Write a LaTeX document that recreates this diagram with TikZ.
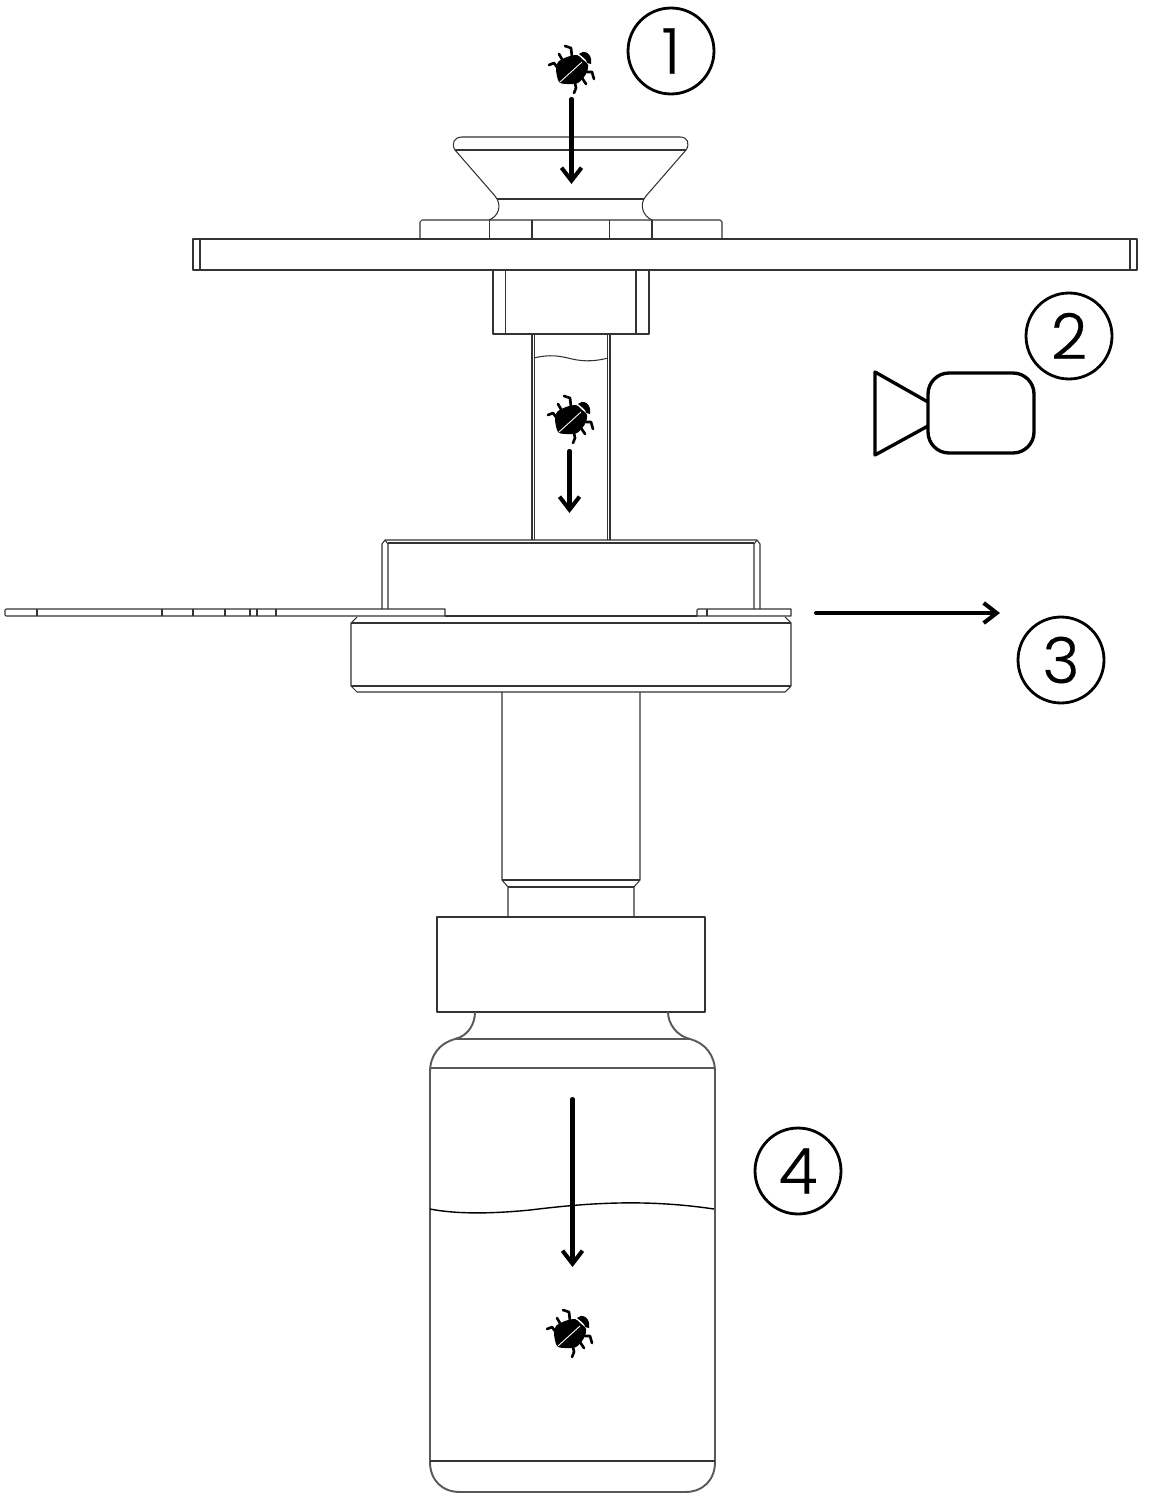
\documentclass[tikz,border=0pt]{standalone}
\usepackage{fontspec}
\setmainfont{Poppins Light}[FakeBold=0.5]
\usetikzlibrary{arrows.meta}

\tikzset{
    bug/.pic = {
        \fill[black] plot[smooth cycle] coordinates {(-16,0) (-14,-8) (-5,-13) (5,-15) (10,-11) (16,-5) (14,4) (6,13) (-5,14) (-13,12)};
        \fill[black] (7,-16) .. controls (11,-21) and (21,-17) .. (19,-6) -- (15,-7) .. controls (15,-10) and (12,-12) .. (7,-16) -- cycle;
        \draw[white, line width=0.5pt] (-12,12) -- (10,-8);
        \draw[black, line width=1.5pt, line cap=round, line join=round]
            (0,-13) -- (-1,-22) -- (-7,-24)
            (-9,-9) -- (-13,-16)
            (-15,-3) -- (-18,-7) -- (-23,-5)
            (15,2) -- (20,2) -- (22,9)
            (10,8) -- (14,14)
            (3,13) -- (4,18) -- (2,23);
    }
}

\begin{document}
\begin{tikzpicture}[
              x = 0.02cm, y = -0.02cm, % reference pixels
              > = {Straight Barb[length=2.6mm, width=4mm, line width=2.3pt]},
            semithick % line style
        ]

        \useasboundingbox (0,0) rectangle (1161,1503);

        \tikzstyle{part}=[draw = black!80, line width = 0.6pt, line join = round]
        \tikzstyle{glass}=[draw = black!65, line width = 1.1pt]
        \tikzstyle{flow}=[line width = 2.3pt, line cap = round]
        \tikzstyle{step label}=[
            draw, circle,
            line width = 1.6pt,
            minimum size = 1.72cm,
            inner sep = 0pt,
            font = \fontsize{36}{36}\selectfont
        ]
        \tikzstyle{cam}=[draw, line width = 1.9pt, line join = round]

        % funnel
        \draw[part] (462,137) -- (680,137) .. controls (688,137) and (690,144) .. (686,150)
            -- (646,196) -- (644,199) .. controls (640,206) and (643,216) .. (652,220);
        \draw[part] (462,137) .. controls (454,137) and (451,144) .. (455,150)
            -- (495,196) -- (497,199) .. controls (501,206) and (499,216) .. (489,220);
        \draw[part] (455,150) -- (686,150);
        \draw[part] (497,199) -- (644,199);

        % collar and top plate
        \draw[part] (420,239) -- (420,222) -- (422,220) -- (720,220) -- (722,222) -- (722,239);
        \foreach \xcol in {489.5, 532, 609.5, 652}
            \draw[part] (\xcol,220) -- (\xcol,239);
        \draw[part] (193,239) rectangle (1137,270);
        \draw[part] (200,239) -- (200,270);
        \draw[part] (1130,239) -- (1130,270);

        % block and tube
        \draw[part] (493,270) -- (493,334) -- (649,334) -- (649,270);
        \draw[part] (505.5,270) -- (505.5,334);
        \draw[part] (636,270) -- (636,334);
        \foreach \xtube in {532, 534.5, 607.5, 610}
            \draw[part] (\xtube,334) -- (\xtube,540);
        \draw[part] (534,358) .. controls (550,354) and (560,356) .. (572,359)
            .. controls (585,362) and (597,361) .. (608,358);

        % housing
        \draw[part] (382,609) -- (382,544) -- (385,540) -- (757,540) -- (760,544) -- (760,609);
        \draw[part] (388,609) -- (388,544) -- (385,540);
        \draw[part] (754,609) -- (754,544) -- (757,540);
        \draw[part] (388,543) -- (754,543);

        % slider
        \draw[part] (6,609) -- (445,609) -- (445,616) -- (6,616) -- (5,615) -- (5,610) -- cycle;
        \foreach \xslot in {37, 162, 193, 225, 250, 257, 276}
            \draw[part] (\xslot,609) -- (\xslot,616);
        \draw[part] (697,616) -- (697,610) -- (698,609) -- (791,609) -- (791,616) -- (697,616);
        \draw[part] (707,609) -- (707,616);

        % flange
        \draw[part] (445,616) -- (697,616);
        \draw[part] (357,617) -- (351,623) -- (351,686) -- (357,692) -- (785,692) -- (791,686) -- (791,623) -- (785,617);
        \draw[part] (351,623) -- (791,623);
        \draw[part] (351,686) -- (791,686);

        % shaft
        \draw[part] (502,692) -- (502,880) -- (508,887) -- (508,917);
        \draw[part] (640,692) -- (640,880) -- (634,887) -- (634,917);
        \draw[part] (502,880) -- (640,880);
        \draw[part] (508,887) -- (634,887);
        \draw[part] (437,917) rectangle (705,1012);

        % vial
        \draw[glass] (475,1012) .. controls (475,1024) and (468,1036) .. (455,1039)
            .. controls (440,1043) and (430,1055) .. (430,1072) -- (430,1462)
            .. controls (430,1480) and (442,1492) .. (460,1492) -- (685,1492)
            .. controls (703,1492) and (715,1480) .. (715,1462) -- (715,1072)
            .. controls (715,1055) and (705,1043) .. (690,1039)
            .. controls (677,1036) and (668,1024) .. (668,1012);
        \draw[glass] (455,1039) -- (690,1039);
        \draw[glass] (430,1068) -- (715,1068);
        \draw[part] (430,1461) -- (715,1461);
        \draw[black, line width = 0.8pt] (430,1209) .. controls (455,1214) and (490,1214) .. (530,1210)
            .. controls (580,1204) and (640,1198) .. (714,1209);

        % insects
        \pic (bugtop) at (572,70) {bug};
        \pic (bugtube) at (571,420) {bug};
        \pic (bugvial) at (570,1334) {bug};

        % arrows
        \coordinate (A1) at (571.5,99);
        \coordinate (B1) at (571.5,184);
        \coordinate (A2) at (569.5,451);
        \coordinate (B2) at (569.5,513);
        \coordinate (A3) at (816,613);
        \coordinate (B3) at (1000,613);
        \coordinate (A4) at (572.5,1099);
        \coordinate (B4) at (572.5,1267);
        \path[flow,->] (A1) edge (B1);
        \path[flow,->] (A2) edge (B2);
        \path[flow,->] (A3) edge (B3);
        \path[flow,->] (A4) edge (B4);

        % camera
        \node[cam, rounded corners = 0.42cm, minimum width = 2.12cm, minimum height = 1.6cm] (Body) at (981,413) {};
        \draw[cam] (928,402) -- (875,372) -- (875,455) -- (928,426);

        % numbers
        \node[step label] (S1) at (671,51) {1};
        \node[step label] (S2) at (1069,336) {2};
        \node[step label] (S3) at (1061,660) {3};
        \node[step label] (S4) at (798,1171) {4};

  \end{tikzpicture}
\end{document}
